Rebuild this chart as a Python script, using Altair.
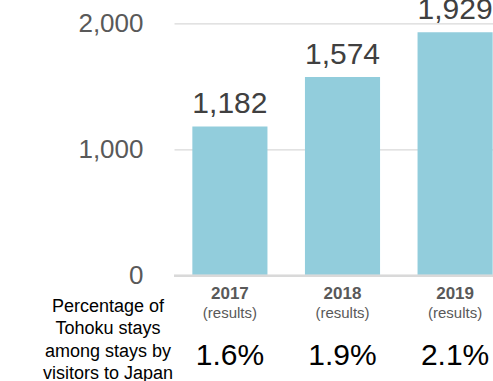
import altair as alt
import pandas as pd

# Tohoku overnight stays by foreign visitors (thousand person-nights)
years = ["2017", "2018", "2019"]
subtitles = ["(results)", "(results)", "(results)"]
stays = [1182, 1574, 1929]
shares = ["1.6%", "1.9%", "2.1%"]
share_caption = ["Percentage of", "Tohoku stays", "among stays by", "visitors to Japan"]
y_ticks = [0, 1000, 2000]

df = pd.DataFrame({"year": years, "sub": subtitles, "stays": stays, "share": shares})

NUM_FONT = "Liberation Sans"
CAT_FONT = "Liberation Sans Narrow, Liberation Sans"

x_enc = alt.X(
    "year:N",
    sort=years,
    axis=None,
    scale=alt.Scale(range=[0, 337], paddingInner=0.333, paddingOuter=0.163),
)
y_scale = alt.Scale(domain=[0, 2000], nice=False)

base = alt.Chart(df).encode(x=x_enc)

bars = base.mark_bar(color="#92CDDC").encode(
    y=alt.Y(
        "stays:Q",
        scale=y_scale,
        axis=alt.Axis(
            values=y_ticks,
            format=",.0f",
            title=None,
            domain=False,
            ticks=False,
            grid=True,
            gridColor="#d9d9d9",
            gridWidth=1.2,
            labelFont=NUM_FONT,
            labelFontSize=26,
            labelColor="#595959",
            labelPadding=31,
        ),
    )
)

baseline = alt.Chart(df).mark_rule(color="#d9d9d9", strokeWidth=2).encode(
    x=alt.value(0), x2=alt.value(319), y=alt.value(252.4)
)

values = base.mark_text(
    font=NUM_FONT, fontSize=30, color="#404040", baseline="alphabetic", dy=-13.5
).encode(y=alt.Y("stays:Q", scale=y_scale), text=alt.Text("stays:Q", format=",.0f"))

year_lbl = base.mark_text(
    font=CAT_FONT, fontSize=17, fontWeight="bold", color="#595959", baseline="middle"
).encode(y=alt.value(270.7), text="year:N")

sub_lbl = base.mark_text(
    font=CAT_FONT, fontSize=15, color="#595959", baseline="middle"
).encode(y=alt.value(290), text="sub:N")

share_lbl = base.mark_text(
    font=NUM_FONT, fontSize=30, color="#000000", baseline="middle"
).encode(y=alt.value(333), text="share:N")

caption = alt.Chart(pd.DataFrame({"t": [share_caption]})).mark_text(
    font=NUM_FONT, fontSize=18, color="#000000", align="center",
    baseline="middle", lineHeight=22.5,
).encode(x=alt.value(-66), y=alt.value(283.4), text="t")

chart = (
    alt.layer(bars, baseline, values, year_lbl, sub_lbl, share_lbl, caption)
    .properties(
        width=319,
        height=252.4,
        background="white",
        autosize=alt.AutoSizeParams(type="none"),
        padding={"left": 174, "top": 23.3, "right": 0, "bottom": 105.3},
    )
    .configure_view(strokeWidth=0, stroke="transparent")
)

chart.save("out.html", embed_options={"renderer": "svg", "actions": False})
